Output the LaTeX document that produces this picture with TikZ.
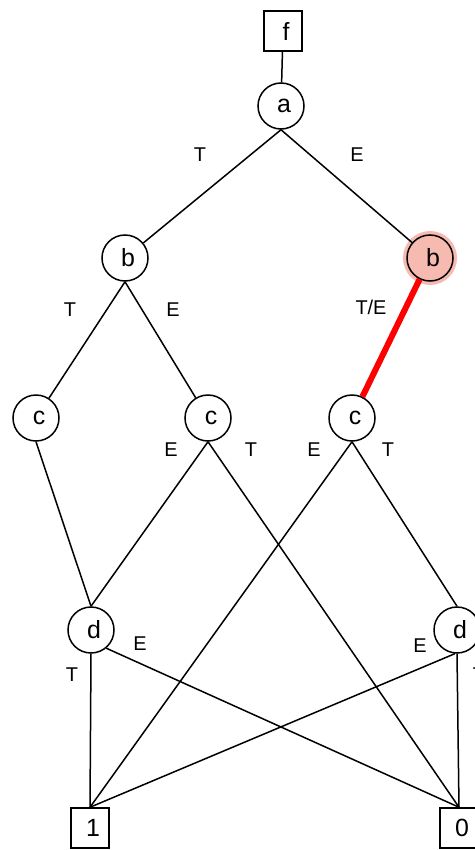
\documentclass[tikz,border=0pt]{standalone}
\usepackage{fontspec}
\setmainfont{Liberation Sans}
\definecolor{hilite}{RGB}{246,186,176}
\tikzset{
  x=1bp, y=-1bp,
  bddnode/.style={circle, draw, line width=1.5bp, minimum size=46bp, inner sep=0pt,
     font=\fontsize{25}{30}\selectfont},
  termbox/.style={rectangle, draw, line width=1.5bp, minimum width=38bp, minimum height=40bp, inner sep=0pt,
     font=\fontsize{25}{30}\selectfont},
  edgelbl/.style={inner sep=0pt, font=\fontsize{20}{24}\selectfont},
  edge/.style={line width=1.5bp},
  hot/.style={line width=6bp, red},
}
\newcommand{\nl}[1]{\raisebox{-1.5bp}{\hspace*{6bp}#1}}
\begin{document}
\begin{tikzpicture}
\useasboundingbox (0,0) rectangle (475,850);
\clip (0,0) rectangle (475,850);
\fill[white] (0,0) rectangle (475,850);
% highlight behind right b
\fill[hilite] (430,258) circle (27);
% nodes
\node[termbox] (f) at (283,31) {\nl{f}};
\node[bddnode] (a) at (281,106) {\nl{a}};
\node[bddnode] (bL) at (125,258) {\nl{b}};
\node[bddnode] (bR) at (430,258) {\nl{b}};
\node[bddnode] (c1) at (36,418) {\nl{c}};
\node[bddnode] (c2) at (208,418) {\nl{c}};
\node[bddnode] (c3) at (352,418) {\nl{c}};
\node[bddnode] (dL) at (91,630) {\nl{d}};
\node[bddnode] (dR) at (457,630) {\nl{d}};
\node[termbox] (one) at (90,828) {\nl{1}};
\node[termbox] (zero) at (459,828) {\nl{0}};
% edges
\draw[edge] (f) -- (a);
\draw[edge] (a.south) -- (bL);
\draw[edge] (a.south) -- (bR);
\draw[edge] (bL.south) -- (c1);
\draw[edge] (bL.south) -- (c2);
\draw[hot] (bR) -- (c3);
\draw[edge] (c1.south) -- (dL.north);
\draw[edge] (c2.south) -- (dL.north);
\draw[edge] (c2.south) -- (zero.north);
\draw[edge] (c3.south) -- (one.north);
\draw[edge] (c3.south) -- (dR.north);
\draw[edge] (dL.south) -- (one.north);
\draw[edge] (dL.-50) -- (zero.north);
\draw[edge] (dR.-95) -- (one.north);
\draw[edge] (dR.south) -- (zero.north);
% labels
\node[edgelbl] (l1) at (200,155) {T};
\node[edgelbl] (l2) at (357,155) {E};
\node[edgelbl] (l3) at (70,310) {T};
\node[edgelbl] (l4) at (173,310) {E};
\node[edgelbl] (l5) at (371,307) {T/E};
\node[edgelbl] (l6) at (171,450) {E};
\node[edgelbl] (l7) at (251,450) {T};
\node[edgelbl] (l8) at (314,450) {E};
\node[edgelbl] (l9) at (388,450) {T};
\node[edgelbl] (l10) at (140,644) {E};
\node[edgelbl] (l11) at (72,675) {T};
\node[edgelbl] (l12) at (420,646) {E};
\node[edgelbl] (l13) at (479,675) {T};
\end{tikzpicture}
\end{document}
